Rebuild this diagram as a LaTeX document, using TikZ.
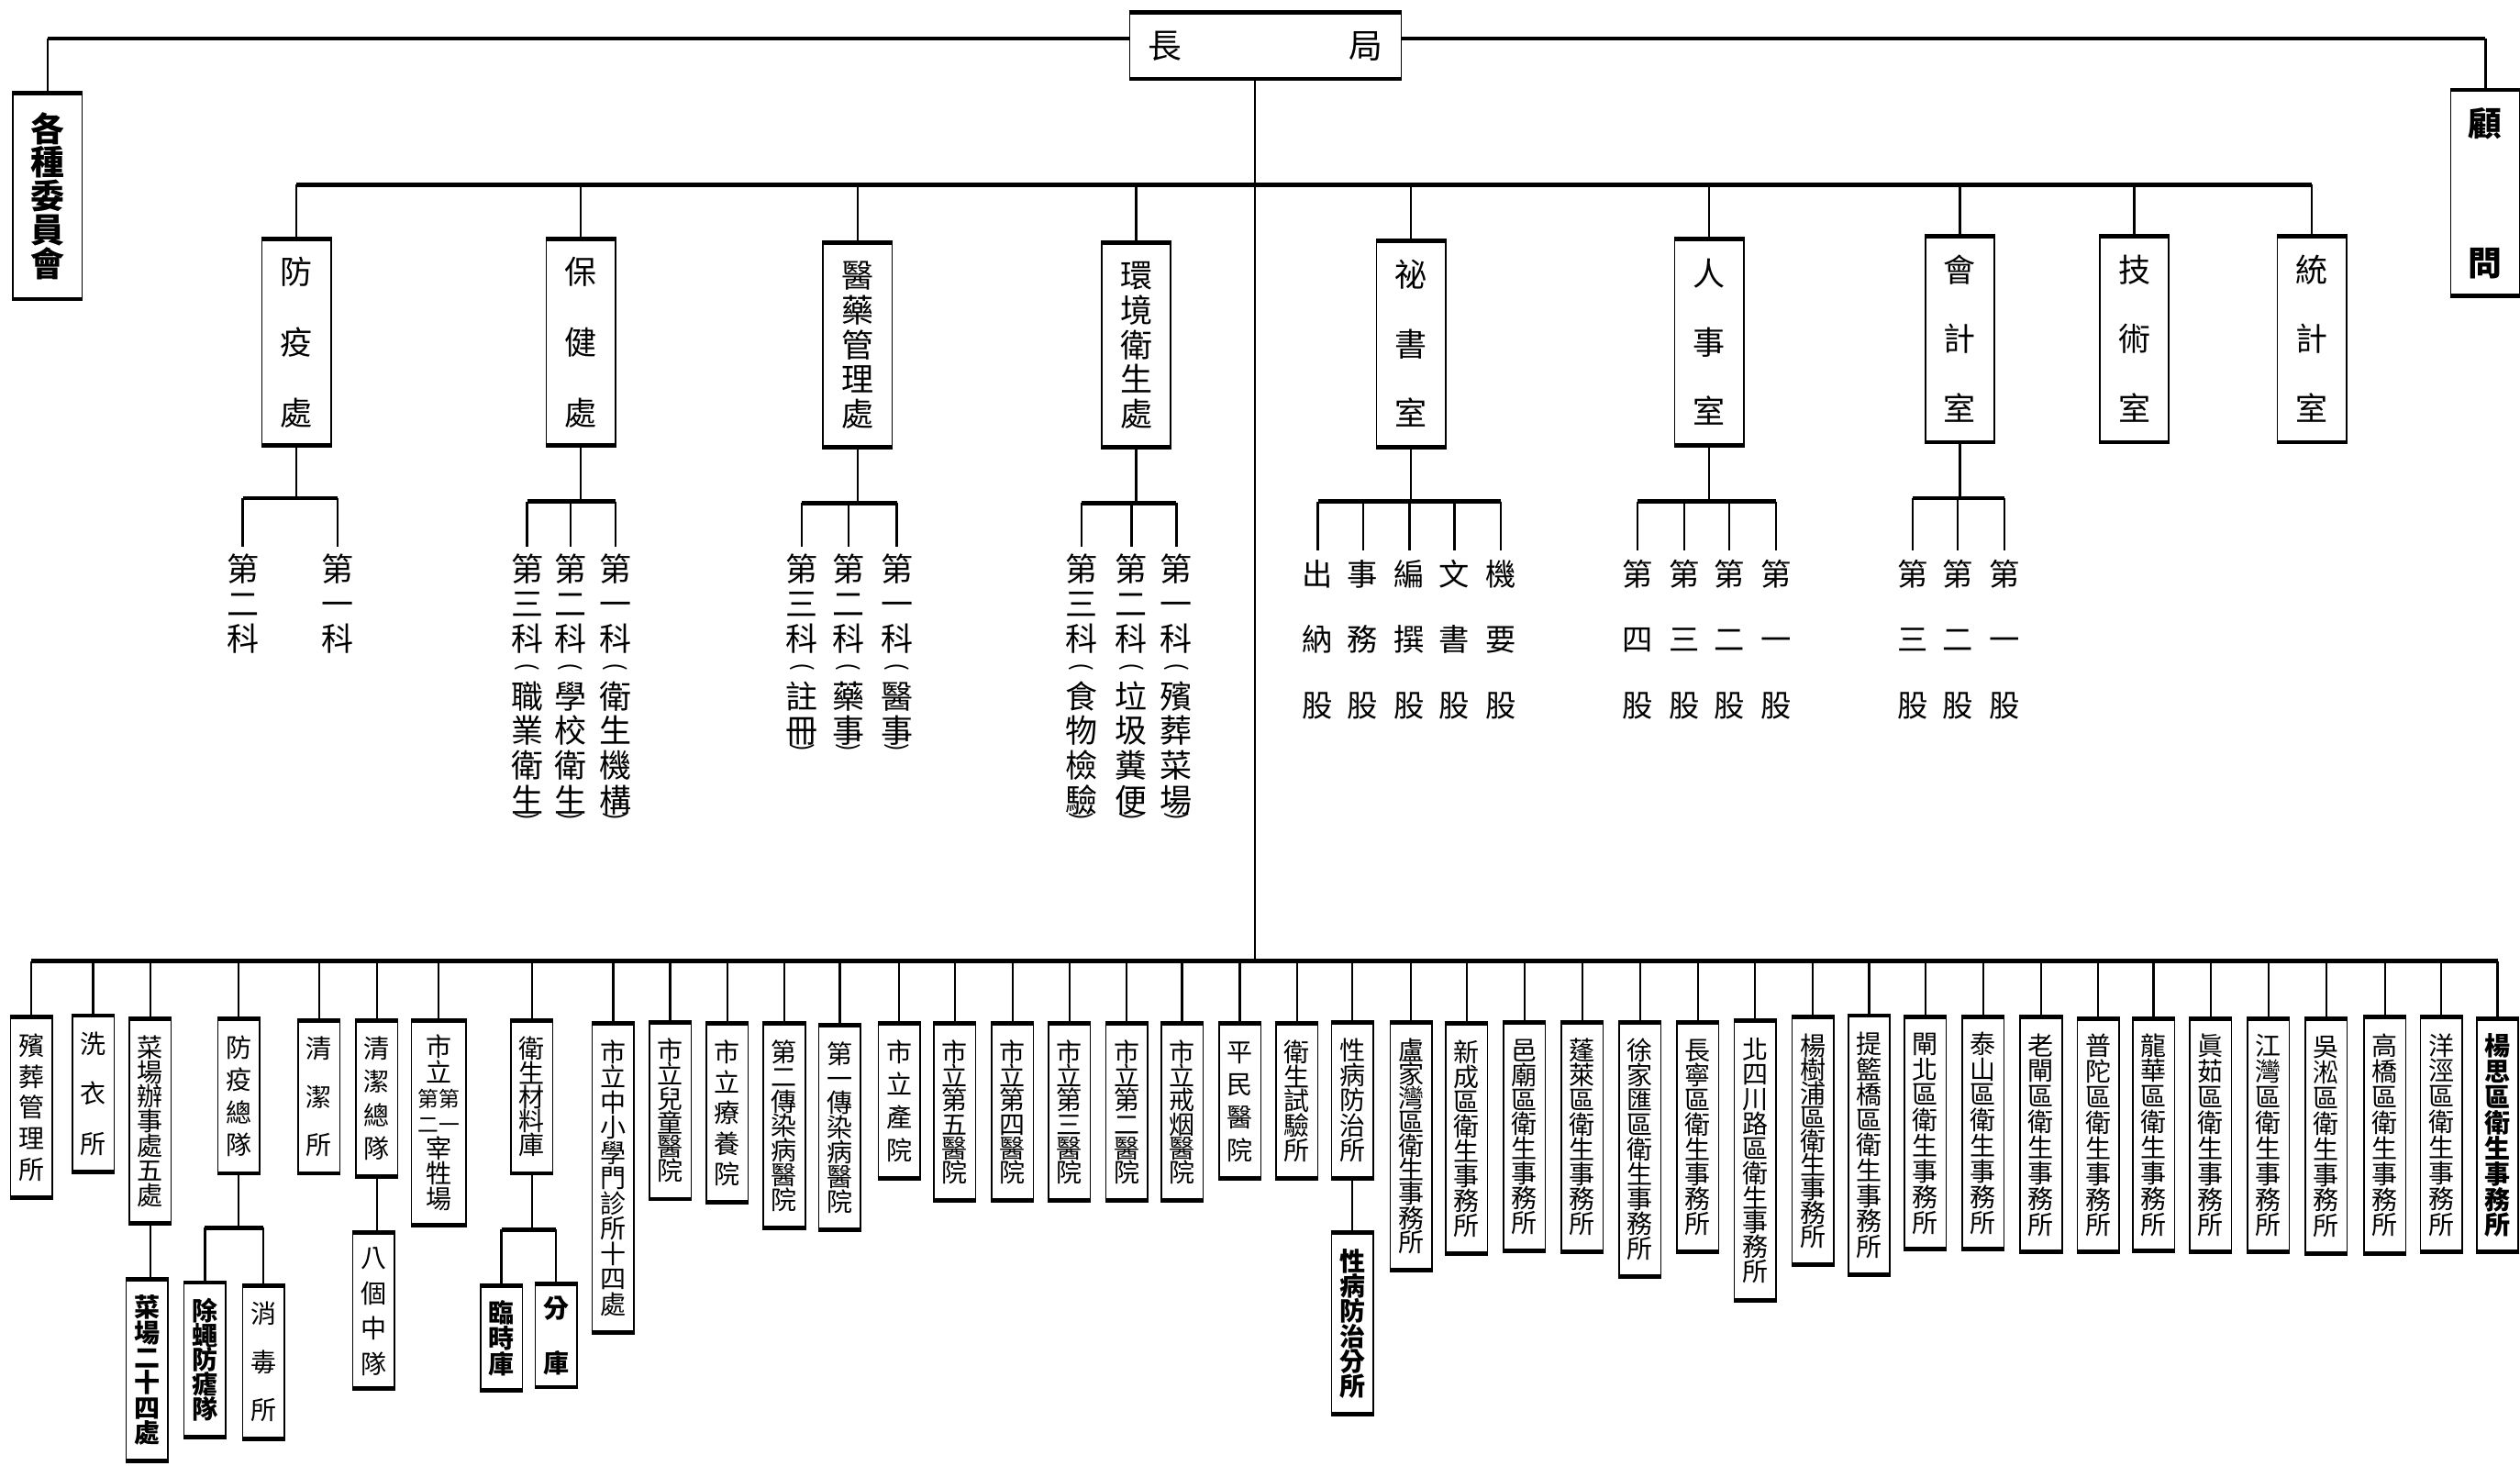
\documentclass[tikz,border=0pt]{standalone}
\usepackage{fontspec}
\usepackage{graphicx}
\newfontfamily\cjk{Noto Sans CJK TC}
\makeatletter
\newcommand\ch[1]{\hbox to 0pt{\hss\vrule height .88em depth .12em width 0pt\relax#1\hss}}
\newcommand\chp[1]{\hbox to 0pt{\hss\setbox0\hbox{\rotatebox[origin=c]{-90}{\fontsize{15}{15}\selectfont #1}}\dimen0=\dimexpr(\ht0-\dp0)/2\relax\lower\dimen0\box0\hss}}
\newcommand\vcol[2]{\vbox{\baselineskip=#1pt\relax\lineskiplimit=-\maxdimen\lineskip=0pt\relax#2}}
\def\vt@end{}
\def\vt@loop#1{\ifx\vt@end#1\else\ch{#1}\expandafter\vt@loop\fi}
\newcommand\vt[2]{\vcol{#1}{\vt@loop#2\vt@end}}
\newcommand\kpar[2]{\vcol{21.5}{\vt@loop#1\vt@end\vskip-10.1pt\chp{(}\vskip3.1pt\vt@loop#2\vt@end\vskip-17.6pt\chp{)}}}
\makeatother
\tikzset{
  conn/.style={line width=1.3pt},
  bus/.style={line width=2.6pt},
  obox/.style={draw, line width=0.9pt, inner sep=0pt,
    path picture={\draw[line width=4.6pt]
      (path picture bounding box.north west) -- (path picture bounding box.north east)
      (path picture bounding box.south west) -- (path picture bounding box.south east);}},
  lowtext/.style={font=\cjk\fontsize{16}{16}\selectfont},
  lowbold/.style={font=\cjk\bfseries\fontsize{16}{16}\selectfont},
  toptext/.style={font=\cjk\fontsize{20}{20}\selectfont},
  keytext/.style={font=\cjk\fontsize{20}{20}\selectfont, inner sep=0pt, anchor=north},
  sectext/.style={font=\cjk\fontsize{19}{19}\selectfont, inner sep=0pt},
}
\newcommand\bb[7][]{\node[obox,lowtext,minimum width=26pt,minimum height={#5-#4},#1] (#2) at (#3,{(#4+#5)/2}) {\vt{#6}{#7}};}
\newcommand\tb[7][]{\node[obox,toptext,minimum width=43pt,minimum height={#5-#4},#1] (#2) at (#3,{(#4+#5)/2}) {\vt{#6}{#7}};}
\begin{document}
\begin{tikzpicture}[x=1pt,y=-1pt]
\fill[white] (0,0) rectangle (1568,912);
\useasboundingbox (0,0) rectangle (1568,912);
% ---------- top level
\node[obox,font=\cjk\fontsize{21}{21}\selectfont,minimum width=169pt,minimum height=43pt] (chief) at (787.5,28.5) {長\hspace{104pt}局};
\node[obox,font=\cjk\bfseries\fontsize{21}{21}\selectfont,minimum width=43pt,minimum height=130pt] (kw) at (29.5,122) {\vt{21}{各種委員會}};
\node[obox,font=\cjk\bfseries\fontsize{21}{21}\selectfont,minimum width=43pt,minimum height=130pt] (gw) at (1546.5,120) {\vt{87}{顧問}};
\coordinate (top) at (0,24);
\draw[bus] (kw.north |- top) -- (chief.west |- top);
\draw[bus] (chief.east |- top) -- (gw.north |- top);
\draw[conn] (kw.north |- top) -- (kw.north);
\draw[conn] (gw.north |- top) -- (gw.north);
\coordinate (trunk) at (781,0);
\coordinate (busB) at (0,598);
\coordinate (bus2) at (0,115);
\draw[conn] (chief.south -| trunk) -- (trunk |- busB);
% ---------- second level
\tb{fy}{184.5}{148}{278}{44}{防疫處}
\tb{bj}{361.5}{148}{278}{44}{保健處}
\tb{yy}{533.5}{150}{279}{21.5}{醫藥管理處}
\tb{hj}{707}{150}{279}{21.5}{環境衛生處}
\tb{ms}{878}{149}{279}{43}{祕書室}
\tb{rs}{1063.5}{148}{278}{43}{人事室}
\tb{kj}{1219.5}{146}{276}{43}{會計室}
\tb{js}{1328}{146}{276}{43}{技術室}
\tb{tj}{1438.5}{146}{276}{43}{統計室}
\draw[bus] (fy.north |- bus2) -- (tj.north |- bus2);
\foreach \n in {fy,bj,yy,hj,ms,rs,kj,js,tj} \draw[conn] (\n.north |- bus2) -- (\n.north);
% ---------- sections
\node[keytext] (k1a) at (151,344) {\vt{21.5}{第二科}};
\node[keytext] (k1b) at (210,344) {\vt{21.5}{第一科}};
\node[keytext] (k2a) at (328,344) {\kpar{第三科}{職業衛生}};
\node[keytext] (k2b) at (355,344) {\kpar{第二科}{學校衛生}};
\node[keytext] (k2c) at (383,344) {\kpar{第一科}{衛生機構}};
\node[keytext] (k3a) at (499,344) {\kpar{第三科}{註冊}};
\node[keytext] (k3b) at (528,344) {\kpar{第二科}{藥事}};
\node[keytext] (k3c) at (558,344) {\kpar{第一科}{醫事}};
\node[keytext] (k4a) at (673,344) {\kpar{第三科}{食物檢驗}};
\node[keytext] (k4b) at (704,344) {\kpar{第二科}{垃圾糞便}};
\node[keytext] (k4c) at (732,344) {\kpar{第一科}{殯葬菜場}};
\node[sectext] (m1) at (820,398) {\vt{41}{出納股}};
\node[sectext] (m2) at (848,398) {\vt{41}{事務股}};
\node[sectext] (m3) at (877,398) {\vt{41}{編撰股}};
\node[sectext] (m4) at (905,398) {\vt{41}{文書股}};
\node[sectext] (m5) at (934,398) {\vt{41}{機要股}};
\node[sectext] (r1) at (1019,398) {\vt{41}{第四股}};
\node[sectext] (r2) at (1048,398) {\vt{41}{第三股}};
\node[sectext] (r3) at (1076,398) {\vt{41}{第二股}};
\node[sectext] (r4) at (1105,398) {\vt{41}{第一股}};
\node[sectext] (a1) at (1190,398) {\vt{41}{第三股}};
\node[sectext] (a2) at (1218,398) {\vt{41}{第二股}};
\node[sectext] (a3) at (1247,398) {\vt{41}{第一股}};
\coordinate (s1) at (0,310);
\coordinate (s2) at (0,312);
\coordinate (s3) at (0,313);
\coordinate (s5) at (0,312);
\coordinate (s6) at (0,312);
\coordinate (s7) at (0,310);
\draw[conn] (fy.south) -- (fy.south |- s1);
\draw[bus] (k1a.north |- s1) -- (k1b.north |- s1);
\foreach \k in {k1a,k1b} \draw[conn] (\k.north |- s1) -- ([yshift=4pt]\k.north);
\draw[conn] (bj.south) -- (bj.south |- s2);
\draw[bus] (k2a.north |- s2) -- (k2c.north |- s2);
\foreach \k in {k2a,k2b,k2c} \draw[conn] (\k.north |- s2) -- ([yshift=4pt]\k.north);
\draw[conn] (yy.south) -- (yy.south |- s3);
\draw[bus] (k3a.north |- s3) -- (k3c.north |- s3);
\foreach \k in {k3a,k3b,k3c} \draw[conn] (\k.north |- s3) -- ([yshift=4pt]\k.north);
\draw[conn] (hj.south) -- (hj.south |- s3);
\draw[bus] (k4a.north |- s3) -- (k4c.north |- s3);
\foreach \k in {k4a,k4b,k4c} \draw[conn] (\k.north |- s3) -- ([yshift=4pt]\k.north);
\draw[conn] (ms.south) -- (ms.south |- s5);
\draw[bus] (m1.north |- s5) -- (m5.north |- s5);
\foreach \k in {m1,m2,m3,m4,m5} \draw[conn] (\k.north |- s5) -- ([yshift=5pt]\k.north);
\draw[conn] (rs.south) -- (rs.south |- s6);
\draw[bus] (r1.north |- s6) -- (r4.north |- s6);
\foreach \k in {r1,r2,r3,r4} \draw[conn] (\k.north |- s6) -- ([yshift=5pt]\k.north);
\draw[conn] (kj.south) -- (kj.south |- s7);
\draw[bus] (a1.north |- s7) -- (a3.north |- s7);
\foreach \k in {a1,a2,a3} \draw[conn] (\k.north |- s7) -- ([yshift=5pt]\k.north);
% ---------- bottom row
\bb{b1}{19.5}{632}{746}{19.25}{殯葬管理所}
\bb{b2}{58}{631}{730}{31}{洗衣所}
\bb{b3}{93.5}{633}{762}{15.3}{菜場辦事處五處}
\bb[lowbold]{b3a}{91.5}{795}{910}{15.6}{菜場二十四處}
\bb{b4}{148.5}{633}{731}{20.3}{防疫總隊}
\bb[lowbold]{b4a}{127.5}{797}{895}{15.25}{除蠅防瘧隊}
\bb{b4b}{164}{799}{896}{30}{消毒所}
\bb{b5}{198.5}{634}{731}{30}{清潔所}
\bb{b6}{234.5}{634}{733}{20.7}{清潔總隊}
\bb{b6a}{232.5}{766}{865}{22}{八個中隊}
\node[obox,lowtext,minimum width=34pt,minimum height=129pt] (b7) at (273,698.5) {\vcol{15.8}{\ch{市}\ch{立}\ch{\fontsize{13}{13}\selectfont 第第}\ch{\fontsize{13}{13}\selectfont 二一}\ch{宰}\ch{牲}\ch{場}}};
\bb{b8}{331}{634}{731}{15}{衛生材料庫}
\bb[lowbold]{b8a}{312}{799}{866}{16}{臨時庫}
\bb[lowbold]{b8b}{346}{798}{864}{34}{分庫}
\bb{b9}{381.5}{636}{830}{15.7}{市立中小學門診所十四處}
\bb{b10}{417}{635}{747}{15}{市立兒童醫院}
\bb{b11}{452.5}{636}{749}{19}{市立療養院}
\bb{b12}{488}{636}{765}{15.3}{第二傳染病醫院}
\bb{b13}{522.5}{637}{766}{15.3}{第一傳染病醫院}
\bb{b14}{559.5}{636}{734}{20.3}{市立產院}
\bb{b15}{594}{636}{748}{15}{市立第五醫院}
\bb{b16}{630}{636}{748}{15}{市立第四醫院}
\bb{b17}{665.5}{636}{748}{15}{市立第三醫院}
\bb{b18}{701}{636}{748}{15}{市立第二醫院}
\bb{b19}{735.5}{636}{748}{15}{市立戒烟醫院}
\bb{b20}{771.5}{636}{734}{20.3}{平民醫院}
\bb{b21}{807}{636}{734}{15.25}{衛生試驗所}
\bb{b22}{841.5}{635}{734}{15.5}{性病防治所}
\bb[lowbold]{b22a}{841.5}{766}{881}{15.6}{性病防治分所}
\bb{b23}{878}{635}{791}{14.9}{盧家灣區衛生事務所}
\bb{b24}{912.5}{636}{781}{15.4}{新成區衛生事務所}
\bb{b25}{948.5}{635}{779}{15.3}{邑廟區衛生事務所}
\bb{b26}{984.5}{635}{780}{15.4}{蓬萊區衛生事務所}
\bb{b27}{1020.5}{635}{795}{15.4}{徐家匯區衛生事務所}
\bb{b28}{1056.5}{635}{780}{15.4}{長寧區衛生事務所}
\bb{b29}{1092}{634}{810}{15.4}{北四川路區衛生事務所}
\bb{b30}{1128}{632}{788}{14.9}{楊樹浦區衛生事務所}
\bb{b31}{1163}{631}{794}{15.75}{提籃橋區衛生事務所}
\bb{b32}{1198}{632}{778}{15.9}{閘北區衛生事務所}
\bb{b33}{1234}{632}{778}{15.9}{泰山區衛生事務所}
\bb{b34}{1270}{632}{780}{15.9}{老閘區衛生事務所}
\bb{b35}{1305.5}{633}{780}{15.9}{普陀區衛生事務所}
\bb{b36}{1340}{633}{779}{15.9}{龍華區衛生事務所}
\bb{b37}{1375.5}{633}{780}{15.9}{眞茹區衛生事務所}
\bb{b38}{1411.5}{633}{780}{15.9}{江灣區衛生事務所}
\bb{b39}{1447.5}{633}{781}{15.9}{吳淞區衛生事務所}
\bb{b40}{1484}{632}{781}{15.9}{高橋區衛生事務所}
\bb{b41}{1519}{632}{780}{15.9}{洋涇區衛生事務所}
\bb[lowbold]{b42}{1554}{633}{780}{15.9}{楊思區衛生事務所}
\draw[bus] (b1.north |- busB) -- (b42.north |- busB);
\foreach \n in {b1,b2,b3,b4,b5,b6,b7,b8,b9,b10,b11,b12,b13,b14,b15,b16,b17,b18,b19,b20,b21,b22,b23,b24,b25,b26,b27,b28,b29,b30,b31,b32,b33,b34,b35,b36,b37,b38,b39,b40,b41,b42}
  \draw[conn] (\n.north |- busB) -- (\n.north);
% sub-units
\draw[conn] (b3.south) -- (b3.south |- b3a.north);
\coordinate (s4) at (0,764);
\draw[conn] (b4.south) -- (b4.south |- s4);
\draw[bus] (b4a.north |- s4) -- (b4b.north |- s4);
\draw[conn] (b4a.north |- s4) -- (b4a.north);
\draw[conn] (b4b.north |- s4) -- (b4b.north);
\draw[conn] (b6.south) -- (b6.south |- b6a.north);
\coordinate (s8) at (0,765);
\draw[conn] (b8.south) -- (b8.south |- s8);
\draw[bus] (b8a.north |- s8) -- (b8b.north |- s8);
\draw[conn] (b8a.north |- s8) -- (b8a.north);
\draw[conn] (b8b.north |- s8) -- (b8b.north);
\draw[conn] (b22.south) -- (b22a.north);
\end{tikzpicture}
\end{document}
